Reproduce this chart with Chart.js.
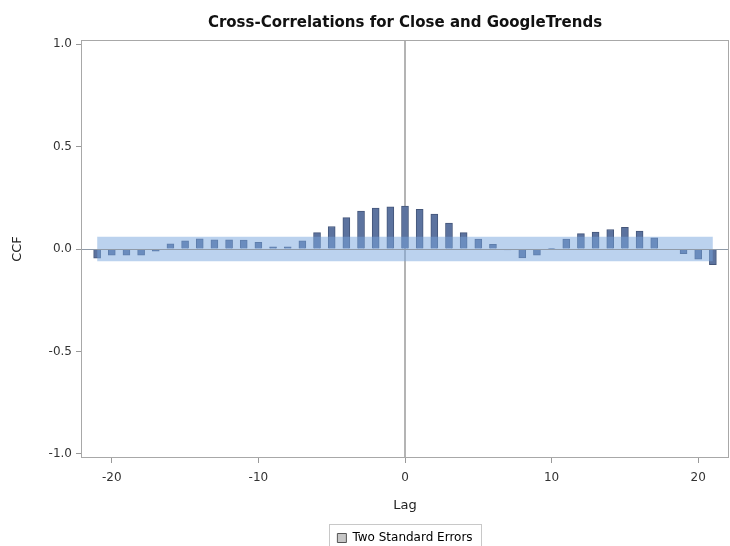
<!DOCTYPE html>
<html>
<head>
<meta charset="utf-8">
<script src="https://cdn.jsdelivr.net/npm/chart.js@4"></script>
<style>
  html, body { margin: 0; padding: 0; background: #fff; }
  #wrap { width: 730px; height: 546px; }
</style>
</head>
<body>
<div id="wrap"><canvas id="ccfChart" width="730" height="546"></canvas></div>
<script>
// lags and cross-correlation values
const lags = [-21, -20, -19, -18, -17, -16, -15, -14, -13, -12, -11, -10, -9, -8, -7, -6, -5, -4, -3, -2, -1,
              0, 1, 2, 3, 4, 5, 6, 7, 8, 9, 10, 11, 12, 13, 14, 15, 16, 17, 18, 19, 20, 21];
const ccf = [-0.045, -0.03, -0.03, -0.03, -0.01, 0.025, 0.04, 0.05, 0.045, 0.045, 0.043, 0.032, 0.01, 0.01, 0.04,
             0.08, 0.11, 0.153, 0.185, 0.2, 0.206,
             0.21, 0.193, 0.17, 0.126, 0.08, 0.049, 0.023, -0.005, -0.044, -0.03, 0.003, 0.048, 0.075, 0.083,
             0.095, 0.106, 0.088, 0.054, -0.003, -0.023, -0.05, -0.077];
// two standard errors band
const bandLags = [-21, 21];
const bandLimits = [-0.06, 0.06];
const yTicks = [-1.0, -0.5, 0.0, 0.5, 1.0];
const xTicks = [-20, -10, 0, 10, 20];

const fontFamily = "'DejaVu Sans', Verdana, sans-serif";

// reference lines, plot frame and legend border
const extras = {
    id: 'extras',
    afterUpdate(chart) {
        // title and legend are centred over the plot area, like the original
        const a = chart.chartArea;
        const mid = (a.left + a.right) / 2;
        const lg = chart.legend;
        const dx = mid - (lg.left + lg.right) / 2;
        lg.left += dx;
        lg.right += dx;
        lg.legendHitBoxes.forEach(h => { h.left += dx; });
        const tb = chart.titleBlock;
        const tx = mid - (tb.left + tb.right) / 2;
        tb.left += tx;
        tb.right += tx;
    },
    beforeDatasetsDraw(chart) {
        const { ctx, chartArea: a, scales: { x } } = chart;
        ctx.save();
        ctx.strokeStyle = '#b4b4b4';
        ctx.lineWidth = 2;
        const x0 = Math.round(x.getPixelForValue(0));
        ctx.beginPath();
        ctx.moveTo(x0, a.top);
        ctx.lineTo(x0, a.bottom);
        ctx.stroke();
        ctx.restore();
    },
    afterDatasetsDraw(chart) {
        const { ctx, chartArea: a, scales: { y } } = chart;
        ctx.save();
        ctx.strokeStyle = '#8f9aa8';
        ctx.lineWidth = 1;
        const y0 = Math.round(y.getPixelForValue(0)) + 0.5;
        ctx.beginPath();
        ctx.moveTo(a.left, y0);
        ctx.lineTo(a.right, y0);
        ctx.stroke();

        ctx.strokeStyle = '#a8a8a8';
        ctx.strokeRect(a.left + 0.5, a.top + 0.5, a.right - a.left - 1, a.bottom - a.top - 1);

        const hb = chart.legend.legendHitBoxes[0];
        if (hb) {
            ctx.strokeStyle = '#c8c8c8';
            ctx.strokeRect(Math.round(hb.left) - 7.5, Math.round(hb.top) - 7.5, Math.round(hb.width) + 17, Math.round(hb.height) + 20);
        }
        ctx.restore();
    }
};

new Chart(document.getElementById('ccfChart').getContext('2d'), {
    type: 'bar',
    data: {
        datasets: [
            {
                type: 'line',
                label: 'Two Standard Errors',
                data: bandLags.map(l => ({ x: l, y: bandLimits[1] })),
                borderWidth: 0,
                borderColor: 'rgba(0,0,0,0)',
                pointRadius: 0,
                backgroundColor: 'rgba(120, 165, 222, 0.5)',
                fill: { value: bandLimits[0] },
                order: 0
            },
            {
                label: 'CCF',
                data: lags.map((l, i) => ({ x: l, y: ccf[i] })),
                backgroundColor: '#5c739f',
                borderColor: '#44567a',
                borderWidth: 1,
                barThickness: 7,
                order: 1
            }
        ]
    },
    options: {
        responsive: false,
        animation: false,
        layout: { padding: { left: 0, right: 1, top: 0, bottom: -8 } },
        plugins: {
            title: {
                display: true,
                text: 'Cross-Correlations for Close and GoogleTrends',
                color: '#111',
                font: { family: fontFamily, size: 15, weight: 'bold' },
                padding: { top: 14, bottom: 8 }
            },
            legend: {
                position: 'bottom',
                labels: {
                    color: '#222',
                    font: { family: fontFamily, size: 12 },
                    boxWidth: 9,
                    boxHeight: 9,
                    padding: 2,
                    generateLabels: () => [{
                        text: 'Two Standard Errors',
                        fillStyle: '#c6c6c6',
                        strokeStyle: '#555',
                        lineWidth: 1,
                        datasetIndex: 0
                    }]
                }
            },
            tooltip: { enabled: false }
        },
        scales: {
            x: {
                type: 'linear',
                min: -22.1,
                max: 22.1,
                offset: false,
                afterBuildTicks: s => { s.ticks = xTicks.map(v => ({ value: v })); },
                afterFit: s => { s.height = 72; },
                grid: { drawOnChartArea: false, offset: false, tickLength: 5, color: '#999' },
                border: { display: false },
                ticks: { color: '#333', font: { family: fontFamily, size: 12 }, padding: 8, maxRotation: 0 },
                title: { display: true, text: 'Lag', color: '#222', font: { family: fontFamily, size: 13 }, padding: { top: 4, bottom: 17 } }
            },
            y: {
                min: -1.02,
                max: 1.02,
                afterBuildTicks: s => { s.ticks = yTicks.map(v => ({ value: v })); },
                afterFit: s => { s.width = 81; },
                grid: { drawOnChartArea: false, offset: false, tickLength: 5, color: '#999' },
                border: { display: false },
                ticks: { color: '#333', font: { family: fontFamily, size: 12 }, padding: 4, callback: v => v.toFixed(1) },
                title: { display: true, text: 'CCF', color: '#222', font: { family: fontFamily, size: 13 }, padding: { top: 10, bottom: 0 } }
            }
        }
    },
    plugins: [extras]
});
</script>
</body>
</html>
